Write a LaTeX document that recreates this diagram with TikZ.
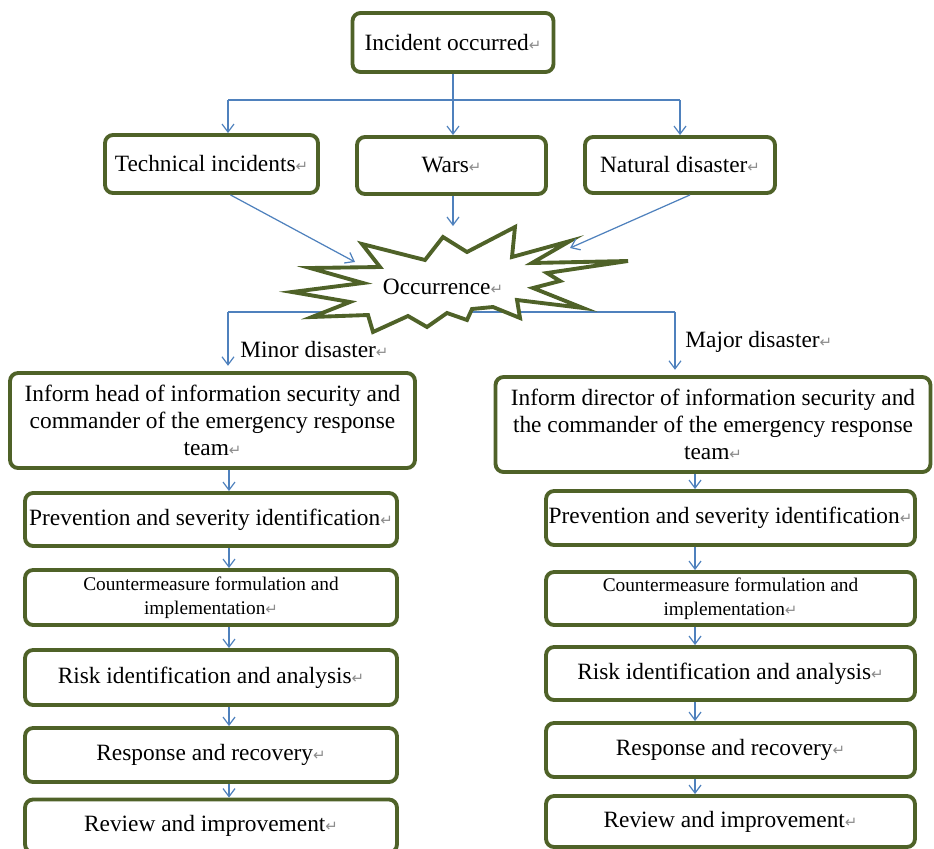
\documentclass[tikz,border=0pt]{standalone}
\usepackage{fontspec}
\setmainfont{Liberation Serif}
\newfontfamily\retfont{DejaVu Sans}
\usepackage{color}
\usepackage{tikz}
\usetikzlibrary{arrows.meta,calc,positioning}
\definecolor{olivebox}{RGB}{79,98,40}
\definecolor{linkblue}{RGB}{79,129,189}
\newcommand{\retmark}{{\color[gray]{0.55}\retfont\fontsize{8.5}{9}\selectfont ↵}}
\tikzset{
    box/.style ={rectangle, rounded corners=1.6mm, draw=olivebox, line width=2.2pt, fill=white, align=center, inner sep=1pt, font=\fontsize{13.3}{15.5}\selectfont},
    small/.style ={font=\fontsize{11}{13.6}\selectfont},
    bus/.style ={draw=linkblue, line width=0.7pt},
    link/.style ={bus, -{Straight Barb[length=1.6mm,width=2.4mm]}},
    burst/.style ={draw=olivebox, line width=2.2pt, fill=white, line join=miter},
    lbl/.style ={inner sep=0pt, anchor=west, font=\fontsize{13.3}{15.5}\selectfont}
}

\begin{document}
\begin{tikzpicture}[x=0.02cm, y=-0.02cm]
    \useasboundingbox (0,0) rectangle (934,849);

    % top row
    \node[box, minimum width=4.02cm, minimum height=1.18cm] (inc) at (453,42.5) {Incident occurred\retmark};
    \node[box, minimum width=4.26cm, minimum height=1.16cm] (tech) at (211.5,164) {Technical incidents\retmark};
    \node[box, minimum width=3.78cm, minimum height=1.14cm] (wars) at (451.5,165.5) {Wars\retmark};
    \node[box, minimum width=3.8cm, minimum height=1.12cm] (nat) at (680,165) {Natural disaster\retmark};

    \coordinate (split) at (453,100);
    \coordinate (ta) at (228,100);
    \coordinate (nb) at (680,100);
    \draw[bus] (inc.south) -- (split);
    \draw[bus] (ta) -- (nb);
    \draw[link] (ta) -- (ta |- tech.north);
    \draw[link] (split) -- (split |- wars.north);
    \draw[link] (nb) -- (nb |- nat.north);

    % occurrence
    \coordinate (minor) at (228,312);
    \coordinate (major) at (675,312);
    \draw[bus] (minor) -- (major);
    \draw[burst] (362,244) -- (425,260) -- (443,237) -- (467,252) -- (515,227) -- (512,257)
        -- (570,241) -- (532,263) -- (628,261) -- (547,273) -- (560,281) -- (533,288)
        -- (583,308) -- (517,300) -- (520,318) -- (493,307) -- (472,309) -- (467,320)
        -- (447,313) -- (427,327) -- (408,316) -- (373,332) -- (368,315) -- (312,317)
        -- (350,302) -- (292,292) -- (363,283) -- (310,268) -- (380,267) -- cycle;
    \node[lbl, anchor=center] (occ) at (443,287) {Occurrence\retmark};

    \coordinate (sa) at (355,262);
    \coordinate (sb) at (453,226);
    \coordinate (sc) at (570,248);
    \draw[link] ($(tech.south)+(19,0)$) -- (sa);
    \draw[link] (wars.south -| sb) -- (sb);
    \draw[link] ($(nat.south)+(10,0)$) -- (sc);

    % minor disaster
    \node[lbl] (minorlbl) at (240,350) {Minor disaster\retmark};
    \node[box, minimum width=8.1cm, minimum height=1.9cm] (infL) at (212.5,420.5)
        {Inform head of information security and\\commander of the emergency response\\team\retmark};
    \node[box, minimum width=7.44cm, minimum height=1.06cm] (prevL) at (211,519.5) {Prevention and severity identification\retmark};
    \node[box, small, minimum width=7.44cm, minimum height=1.1cm] (cntL) at (211,597.5) {Countermeasure formulation and\\implementation\retmark};
    \node[box, minimum width=7.44cm, minimum height=1.1cm] (riskL) at (211,677.5) {Risk identification and analysis\retmark};
    \node[box, minimum width=7.44cm, minimum height=1.08cm] (respL) at (211,755) {Response and recovery\retmark};
    \node[box, minimum width=7.44cm, minimum height=1.06cm] (revL) at (211,826) {Review and improvement\retmark};

    % major disaster
    \node[lbl] (majorlbl) at (685,342) {Major disaster\retmark};
    \node[box, minimum width=8.7cm, minimum height=1.9cm] (infR) at (713,424.5)
        {Inform director of information security and\\the commander of the emergency response\\team\retmark};
    \node[box, minimum width=7.38cm, minimum height=1.08cm] (prevR) at (730.5,518) {Prevention and severity identification\retmark};
    \node[box, small, minimum width=7.38cm, minimum height=1.06cm] (cntR) at (730.5,598.5) {Countermeasure formulation and\\implementation\retmark};
    \node[box, minimum width=7.38cm, minimum height=1.06cm] (riskR) at (730.5,673.5) {Risk identification and analysis\retmark};
    \node[box, minimum width=7.38cm, minimum height=1.08cm] (respR) at (730.5,750) {Response and recovery\retmark};
    \node[box, minimum width=7.38cm, minimum height=1.02cm] (revR) at (730.5,821.5) {Review and improvement\retmark};

    \coordinate (colL) at (229,0);
    \coordinate (colR) at (695,0);
    \draw[link, shorten >=3pt] (minor) -- (minor |- infL.north);
    \draw[link, shorten >=3pt] (major) -- (major |- infR.north);

    \draw[link] (infL.south -| colL) -- (prevL.north -| colL);
    \draw[link] (prevL.south -| colL) -- (cntL.north -| colL);
    \draw[link] (cntL.south -| colL) -- (riskL.north -| colL);
    \draw[link] (riskL.south -| colL) -- (respL.north -| colL);
    \draw[link] (respL.south -| colL) -- (revL.north -| colL);

    \draw[link] (infR.south -| colR) -- (prevR.north -| colR);
    \draw[link] (prevR.south -| colR) -- (cntR.north -| colR);
    \draw[link] (cntR.south -| colR) -- (riskR.north -| colR);
    \draw[link] (riskR.south -| colR) -- (respR.north -| colR);
    \draw[link] (respR.south -| colR) -- (revR.north -| colR);
\end{tikzpicture}
\end{document}
